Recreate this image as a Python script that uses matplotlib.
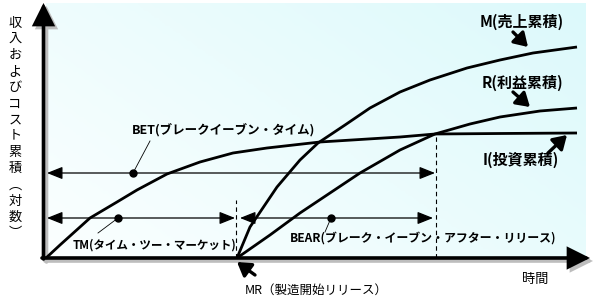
import numpy as np
import matplotlib
matplotlib.use('Agg')
import matplotlib.pyplot as plt
from matplotlib.colors import LinearSegmentedColormap

plt.rcParams['font.family'] = ['Noto Sans CJK JP', 'DejaVu Sans']

# cumulative curves (time, value), origin at axis corner
i_time = [1, 15, 45, 72, 92, 122, 155, 188, 222, 275, 355, 390, 455, 532]
i_value = [0, 13, 40, 56, 68, 84, 96, 105, 110, 116, 121, 124, 124.5, 125]
m_time = [192, 205, 232, 255, 273, 300, 325, 355, 385, 422, 455, 488, 532]
m_value = [0, 31, 71, 98, 115, 133, 150, 166, 178, 190, 198, 205, 211]
r_time = [192, 225, 255, 285, 315, 355, 390, 425, 455, 495, 532]
r_value = [0, 23, 45, 65, 85, 108, 124, 134, 141, 147, 150]

mr_time = 192      # release
be_time = 390      # break even
bet_level = 85
tm_level = 40

ylabel_chars = list('収入およびコスト累積') + ['︵', '対', '数', '︶']

fig = plt.figure(figsize=(5.99, 3.0), dpi=100)
ax = fig.add_axes([0, 0, 1, 1])
ax.set_xlim(-45, 554)
ax.set_ylim(-42, 258)
ax.axis('off')

# background gradient (white bottom-left -> light cyan top-right)
cmap = LinearSegmentedColormap.from_list('bg', ['#fbffff', '#dcf9fb'])
gx, gy = np.meshgrid(np.linspace(0, 1, 200), np.linspace(0, 1, 100))
grad = (gx * 0.6 + gy * 0.4)
ax.imshow(grad, extent=[1, 541, 1, 255], origin='lower', cmap=cmap,
          aspect='auto', zorder=0)

# axes with grey shadow
ax_kw = dict(arrowstyle='-|>,head_length=0.9,head_width=0.45', mutation_scale=14,
             lw=2.6, shrinkA=0, shrinkB=0, joinstyle='miter')
for dx, dy, c, z in [(3, -3, '#bdbdbd', 1), (0, 0, 'black', 2)]:
    ax.annotate('', xy=(-1.5 + dx, 255 + dy), xytext=(-1.5 + dx, -1 + dy),
                arrowprops=dict(color=c, **ax_kw), zorder=z)
    ax.annotate('', xy=(545 + dx, 0 + dy), xytext=(-3 + dx, 0 + dy),
                arrowprops=dict(color=c, **ax_kw), zorder=z)

# curves
for t, v in [(i_time, i_value), (m_time, m_value), (r_time, r_value)]:
    ax.plot(t, v, color='black', lw=2.0, solid_capstyle='butt', zorder=4)

# dashed event lines
ax.plot([mr_time - 1, mr_time - 1], [0, 58], color='black', lw=0.8,
        ls=(0, (4, 3)), zorder=3)
ax.plot([be_time + 1, be_time + 1], [0, 124], color='black', lw=0.8,
        ls=(0, (4, 3)), zorder=3)

# interval arrows
dbl = dict(arrowstyle='<|-|>,head_length=0.95,head_width=0.38', mutation_scale=10,
           lw=0.9, color='black', shrinkA=0, shrinkB=0)
ax.annotate('', xy=(be_time, bet_level), xytext=(2, bet_level), arrowprops=dbl, zorder=5)
ax.annotate('', xy=(mr_time - 2, tm_level), xytext=(2, tm_level), arrowprops=dbl, zorder=5)
ax.annotate('', xy=(be_time - 2, tm_level), xytext=(mr_time + 3, tm_level), arrowprops=dbl, zorder=5)

# dots + leader lines + labels
lab_kw = dict(fontsize=8.6, fontweight='bold', va='center', ha='left', zorder=6)
ax.plot([88, 105], [bet_level, 117], color='black', lw=0.6, zorder=5)
ax.plot(88, bet_level, 'o', color='black', ms=5, zorder=6)
ax.text(87, 127, 'BET(ブレークイーブン・タイム)', **dict(lab_kw, fontsize=9))

ax.plot([73, 53], [tm_level, 25], color='black', lw=0.6, zorder=5)
ax.plot(73, tm_level, 'o', color='black', ms=5, zorder=6)
ax.text(28, 13, 'TM(タイム・ツー・マーケット)', **dict(lab_kw, fontsize=8.3))

ax.plot([286, 280], [tm_level, 26], color='black', lw=0.6, zorder=5)
ax.plot(286, tm_level, 'o', color='black', ms=5, zorder=6)
ax.text(245, 20, 'BEAR(ブレーク・イーブン・アフター・リリース)', **lab_kw)

# curve labels with arrows
pt = dict(arrowstyle='-|>,head_length=0.8,head_width=0.5', mutation_scale=10,
          lw=2.4, color='black', shrinkA=0, shrinkB=0)
big = dict(fontsize=10.8, fontweight='bold', va='center', ha='left', zorder=6)
ax.text(435, 236, 'M(売上累積)', **big)
ax.annotate('', xy=(483, 211), xytext=(468, 226), arrowprops=pt, zorder=6)
ax.text(437, 175, 'R(利益累積)', **big)
ax.annotate('', xy=(485, 151), xytext=(468, 166), arrowprops=pt, zorder=6)
ax.text(438, 98, 'I(投資累積)', **big)
ax.annotate('', xy=(522, 123), xytext=(503, 105), arrowprops=pt, zorder=6)

ax.text(200, -32, 'MR（製造開始リリース）', fontsize=9, va='center', ha='left')
ax.annotate('', xy=(192, -4), xytext=(210, -17), arrowprops=pt, zorder=6)
ax.text(477, -22, '時間', fontsize=9.5, va='center', ha='left')

# vertical y label, one character per row
for k, ch in enumerate(ylabel_chars):
    ax.text(-30, 235 - k * 16.2, ch, fontsize=9.5, ha='center', va='center')

fig.savefig('out.png', dpi=100)
